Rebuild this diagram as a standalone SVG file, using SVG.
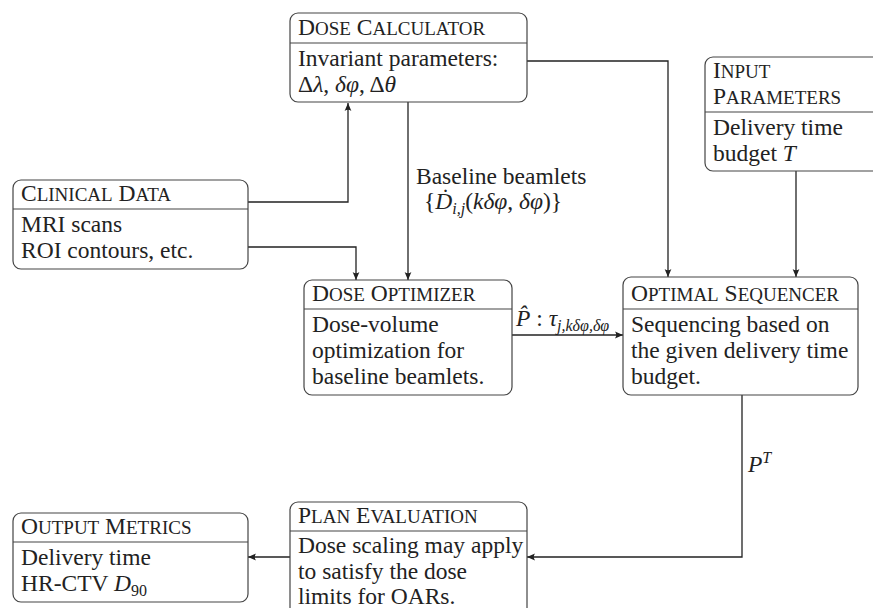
<svg xmlns="http://www.w3.org/2000/svg" width="873" height="608" viewBox="0 0 873 608">
<defs>
<marker id="ah" markerUnits="userSpaceOnUse" markerWidth="12" markerHeight="10" viewBox="-9 -5 10 10" refX="0" refY="0" orient="auto">
<path d="M0,0 L-8,-3.4 Q-5.5,0 -8,3.4 Z" fill="#222"/>
</marker>
</defs>
<style>
.box{fill:#fff;stroke:#444;stroke-width:1.2}
.sep{stroke:#444;stroke-width:1.2}
text{font-family:"Liberation Serif","Times New Roman",serif;font-size:23.5px;fill:#222}
.s{font-size:19px;text-transform:uppercase}
.i{font-style:italic}
.c{fill:none;stroke:#222;stroke-width:1.3;marker-end:url(#ah)}
</style>
<rect width="873" height="608" fill="#fff"/>
<g id="connectors">
<path class="c" d="M248,202 H348 V103"/>
<path class="c" d="M248,247 H356 V280"/>
<path class="c" d="M408,102 V280"/>
<path class="c" d="M527,61 H668 V277"/>
<path class="c" d="M796,171 V277"/>
<path class="c" d="M512,335 H623"/>
<path class="c" d="M742,395 V557 H527"/>
<path class="c" d="M290,557 H248"/>
<text x="416" y="184">Baseline beamlets</text>
<text x="424" y="209">{<tspan class="i">Ḋ</tspan><tspan class="i" font-size="16" dy="5">i,j</tspan><tspan dy="-5">(</tspan><tspan class="i">kδφ</tspan>, <tspan class="i">δφ</tspan>)}</text>
<text x="516" y="326"><tspan class="i">P̂</tspan> : <tspan class="i">τ</tspan><tspan class="i" font-size="16" dy="5">j,kδφ,δφ</tspan></text>
<text x="748" y="472"><tspan class="i">P</tspan><tspan class="i" font-size="16" dy="-9">T</tspan></text>
</g>
<g id="dose-calculator">
<rect class="box" x="290" y="13" width="237" height="89" rx="8"/>
<line class="sep" x1="290" y1="43" x2="527" y2="43"/>
<text x="298" y="35">D<tspan class="s">ose</tspan> C<tspan class="s">alculator</tspan></text>
<text x="298" y="66">Invariant parameters:</text>
<text x="298" y="92">Δ<tspan class="i">λ</tspan>, <tspan class="i">δφ</tspan>, Δ<tspan class="i">θ</tspan></text>
</g>
<g id="input-parameters">
<rect class="box" x="705" y="57" width="180" height="114" rx="8"/>
<line class="sep" x1="705" y1="112" x2="873" y2="112"/>
<text x="713" y="78">I<tspan class="s">nput</tspan></text>
<text x="713" y="104">P<tspan class="s">arameters</tspan></text>
<text x="713" y="135">Delivery time</text>
<text x="713" y="161">budget <tspan class="i">T</tspan></text>
</g>
<g id="clinical-data">
<rect class="box" x="13" y="180" width="235" height="89" rx="8"/>
<line class="sep" x1="13" y1="209" x2="248" y2="209"/>
<text x="21" y="201">C<tspan class="s">linical</tspan> D<tspan class="s">ata</tspan></text>
<text x="21" y="232">MRI scans</text>
<text x="21" y="258">ROI contours, etc.</text>
</g>
<g id="dose-optimizer">
<rect class="box" x="304" y="280" width="208" height="115" rx="8"/>
<line class="sep" x1="304" y1="309" x2="512" y2="309"/>
<text x="312" y="301">D<tspan class="s">ose</tspan> O<tspan class="s">ptimizer</tspan></text>
<text x="312" y="332">Dose-volume</text>
<text x="312" y="358">optimization for</text>
<text x="312" y="384">baseline beamlets.</text>
</g>
<g id="optimal-sequencer">
<rect class="box" x="623" y="277" width="235" height="118" rx="8"/>
<line class="sep" x1="623" y1="309" x2="858" y2="309"/>
<text x="631" y="301">O<tspan class="s">ptimal</tspan> S<tspan class="s">equencer</tspan></text>
<text x="631" y="332">Sequencing based on</text>
<text x="631" y="358">the given delivery time</text>
<text x="631" y="384">budget.</text>
</g>
<g id="output-metrics">
<rect class="box" x="13" y="513" width="235" height="89" rx="8"/>
<line class="sep" x1="13" y1="542" x2="248" y2="542"/>
<text x="21" y="534">O<tspan class="s">utput</tspan> M<tspan class="s">etrics</tspan></text>
<text x="21" y="565">Delivery time</text>
<text x="21" y="591">HR-CTV <tspan class="i">D</tspan><tspan font-size="16" dy="5">90</tspan></text>
</g>
<g id="plan-evaluation">
<rect class="box" x="290" y="502" width="237" height="115" rx="8"/>
<line class="sep" x1="290" y1="531" x2="527" y2="531"/>
<text x="298" y="523">P<tspan class="s">lan</tspan> E<tspan class="s">valuation</tspan></text>
<text x="298" y="553">Dose scaling may apply</text>
<text x="298" y="579">to satisfy the dose</text>
<text x="298" y="604">limits for OARs.</text>
</g>
</svg>
